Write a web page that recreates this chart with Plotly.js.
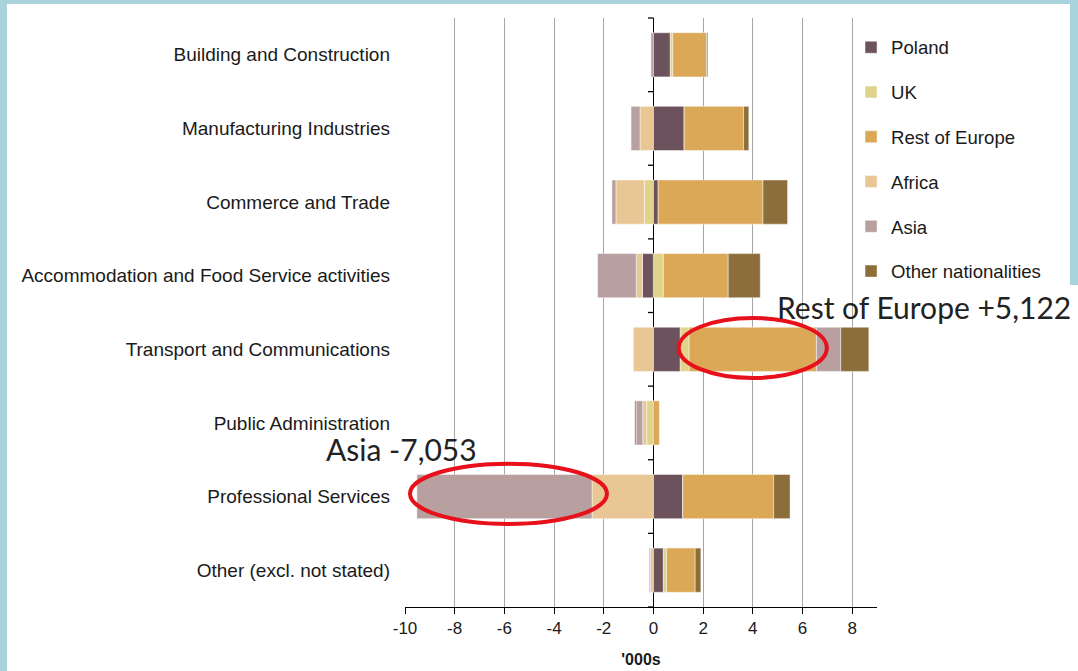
<!DOCTYPE html>
<html>
<head>
<meta charset="utf-8">
<script src="https://cdn.plot.ly/plotly-3.0.1.min.js"></script>
<style>
  html, body { margin: 0; padding: 0; background: #ffffff; }
  #chart { width: 1078px; height: 671px; position: absolute; left: 0; top: 0; }
  .frame { position: absolute; background: #a9d3dc; z-index: 10; }
</style>
</head>
<body>
<div id="chart"></div>
<div class="frame" style="left:0;top:0;width:7px;height:671px;"></div>
<div class="frame" style="left:0;top:0;width:1078px;height:4px;"></div>
<div class="frame" style="left:1070px;top:0;width:8px;height:285px;"></div>
<script>
// ---- data (thousands of workers, change) ----
var categories = [
  'Building and Construction',
  'Manufacturing Industries',
  'Commerce and Trade',
  'Accommodation and Food Service activities',
  'Transport and Communications',
  'Public Administration',
  'Professional Services',
  'Other (excl. not stated)'
];
var seriesNames = ['Poland', 'UK', 'Rest of Europe', 'Africa', 'Asia', 'Other nationalities'];
var poland       = [0.68, 1.24, 0.19, -0.44, 1.08, 0.00, 1.18, 0.40];
var uk           = [0.10, 0.00, -0.37, 0.40, 0.36, -0.27, 0.00, 0.13];
var restOfEurope = [1.36, 2.39, 4.22, 2.61, 5.122, 0.24, 3.66, 1.15];
var africa       = [0.00, -0.54, -1.14, -0.25, -0.81, -0.16, -2.47, -0.12];
var asia         = [-0.10, -0.36, -0.16, -1.56, 0.98, -0.27, -7.053, -0.05];
var otherNat     = [0.05, 0.21, 0.99, 1.29, 1.13, -0.05, 0.66, 0.23];
var xTickVals   = [-10, -8, -6, -4, -2, 0, 2, 4, 6, 8];
var xTickLabels = ['-10', '-8', '-6', '-4', '-2', '0', '2', '4', '6', '8'];
var calloutTexts = ['Rest of Europe +5,122', 'Asia -7,053'];

var colors = ['#6c525c', '#e0d38c', '#daa857', '#e8c794', '#b8a0a0', '#8b6e3a'];
var seriesValues = [poland, uk, restOfEurope, africa, asia, otherNat];

var traces = seriesValues.map(function (vals, i) {
  return {
    type: 'bar',
    orientation: 'h',
    name: seriesNames[i],
    legendgroup: 'g' + i,
    y: categories,
    x: vals,
    width: 0.6,
    marker: { color: colors[i], line: { color: 'rgba(255,255,255,0.45)', width: 1 } },
    hoverinfo: 'skip'
  };
});

// small category-boundary ticks on the zero line
var shapes = [];
for (var k = 0; k <= categories.length; k++) {
  shapes.push({
    type: 'line', xref: 'x', yref: 'paper',
    x0: -0.22, x1: 0, y0: 1 - k / categories.length, y1: 1 - k / categories.length,
    line: { color: '#000', width: 1.3 }, layer: 'above'
  });
}
// red callout ellipses
shapes.push({
  type: 'circle', xref: 'x', yref: 'paper',
  x0: 1.02, x1: 6.98, y0: 0.3888, y1: 0.4907,
  line: { color: '#e8101a', width: 4 }, layer: 'above'
});
shapes.push({
  type: 'circle', xref: 'x', yref: 'paper',
  x0: -9.80, x1: -1.87, y0: 0.1409, y1: 0.2433,
  line: { color: '#e8101a', width: 4 }, layer: 'above'
});

var layout = {
  width: 1078, height: 671,
  margin: { l: 405, r: 201, t: 18, b: 64 },
  paper_bgcolor: '#ffffff', plot_bgcolor: '#ffffff',
  barmode: 'relative',
  font: { family: 'Liberation Sans, Arial, sans-serif', color: '#1a1a1a' },
  xaxis: {
    range: [-10, 9],
    tickmode: 'array', tickvals: xTickVals, ticktext: xTickLabels,
    showgrid: true, gridcolor: '#a6a6a6', gridwidth: 1,
    zeroline: true, zerolinecolor: '#000000', zerolinewidth: 1.5,
    showline: true, linecolor: '#000000', linewidth: 1,
    ticks: 'outside', ticklen: 6, tickcolor: '#000000',
    tickfont: { size: 17, color: '#1a1a1a' },
    title: { text: "'000s", font: { size: 16, weight: 'bold', color: '#1a1a1a' }, standoff: 16 },
    fixedrange: true
  },
  yaxis: {
    type: 'category', autorange: 'reversed',
    showgrid: false, zeroline: false, showline: false, ticks: '',
    tickfont: { size: 19, color: '#1a1a1a' },
    ticklabelstandoff: 14,
    fixedrange: true
  },
  legend: {
    x: 0.945, xanchor: 'left', y: 0.982, yanchor: 'top',
    font: { size: 18.6, color: '#1a1a1a' },
    tracegroupgap: 17.6, traceorder: 'grouped',
    bgcolor: 'rgba(0,0,0,0)', borderwidth: 0, itemwidth: 30
  },
  shapes: shapes,
  annotations: [
    {
      text: calloutTexts[0], xref: 'paper', yref: 'paper', showarrow: false,
      x: (775 - 405) / 472, xanchor: 'left', y: (607 - 307) / 589, yanchor: 'middle',
      font: { family: 'Lato, Open Sans, sans-serif', size: 30, color: '#222222' }
    },
    {
      text: calloutTexts[1], xref: 'paper', yref: 'paper', showarrow: false,
      x: (324 - 405) / 472, xanchor: 'left', y: (607 - 449) / 589, yanchor: 'middle',
      font: { family: 'Lato, Open Sans, sans-serif', size: 30, color: '#222222' }
    }
  ],
  showlegend: true
};

Plotly.newPlot('chart', traces, layout, { displayModeBar: false, staticPlot: true });
</script>
</body>
</html>
